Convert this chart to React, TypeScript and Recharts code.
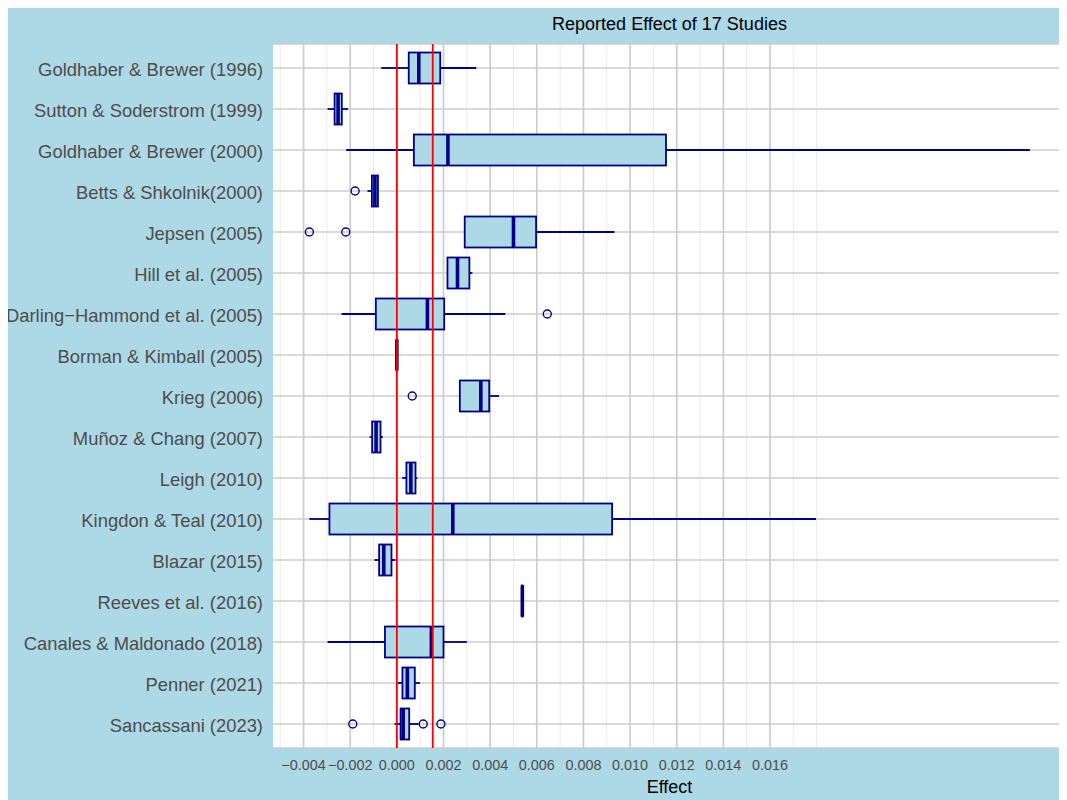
import React from 'react';
import { ComposedChart, Bar, XAxis, YAxis, CartesianGrid, ReferenceLine } from 'recharts';

const studies = [
  'Goldhaber & Brewer (1996)',
  'Sutton & Soderstrom (1999)',
  'Goldhaber & Brewer (2000)',
  'Betts & Shkolnik(2000)',
  'Jepsen (2005)',
  'Hill et al. (2005)',
  'Darling\u2212Hammond et al. (2005)',
  'Borman & Kimball (2005)',
  'Krieg (2006)',
  'Muñoz & Chang (2007)',
  'Leigh (2010)',
  'Kingdon & Teal (2010)',
  'Blazar (2015)',
  'Reeves et al. (2016)',
  'Canales & Maldonado (2018)',
  'Penner (2021)',
  'Sancassani (2023)',
];

const whiskerLow = [-0.00067, -0.00297, -0.00217, -0.00126, 0.00291, 0.00217, -0.00237, -0.00001, 0.0027, -0.00117, 0.00023, -0.00375, -0.00096, 0.00536, -0.00297, 0.00004, -0.0001];
const lowerQuartile = [0.00051, -0.00267, 0.00073, -0.00107, 0.00291, 0.00217, -0.0009, -0.00001, 0.0027, -0.00106, 0.00041, -0.00289, -0.00076, 0.00536, -0.00051, 0.00024, 0.00016];
const medians = [0.00094, -0.00252, 0.00219, -0.00094, 0.005, 0.0026, 0.00131, 0, 0.0036, -0.00089, 0.0006, 0.0024, -0.00056, 0.00538, 0.00148, 0.00045, 0.00027];
const upperQuartile = [0.00186, -0.00236, 0.01154, -0.00081, 0.00597, 0.00311, 0.00203, 0.00001, 0.00396, -0.0007, 0.0008, 0.00923, -0.00023, 0.0054, 0.002, 0.00077, 0.00053];
const whiskerHigh = [0.0034, -0.00209, 0.02714, -0.00081, 0.00933, 0.00324, 0.00465, 0.00001, 0.00438, -0.0006, 0.00088, 0.01797, -0.00006, 0.0054, 0.003, 0.00099, 0.00093];
const outliers: number[][] = [[], [], [], [-0.00179], [-0.00375, -0.00219], [], [0.00645], [], [0.00066], [], [], [], [], [], [], [], [-0.00189, 0.00113, 0.00189]];

const xTicks = [-0.004, -0.002, 0, 0.002, 0.004, 0.006, 0.008, 0.01, 0.012, 0.014, 0.016];
const minorBreaks = [-0.005, -0.003, -0.001, 0.001, 0.003, 0.005, 0.007, 0.009, 0.011, 0.013, 0.015, 0.017, 0.018];
const referenceEffects = [0, 0.00154];

const NAVY = '#00008b';
const BOX_FILL = '#add8e6';

const rows = studies.map((name, i) => ({
  name,
  lo: whiskerLow[i],
  q1: lowerQuartile[i],
  med: medians[i],
  q3: upperQuartile[i],
  hi: whiskerHigh[i],
  out: outliers[i],
}));

type Row = (typeof rows)[number];

const extent = (d: Row): [number, number] => [Math.min(d.lo, ...d.out), Math.max(d.hi, ...d.out)];

function BoxShape(props: any) {
  const { x, y, width, height, payload } = props;
  const d = payload as Row;
  const [min, max] = extent(d);
  const px = (v: number) => x + ((v - min) / (max - min)) * width;
  const cy = y + height / 2;
  return (
    <g>
      <line x1={px(d.lo)} x2={px(d.q1)} y1={cy} y2={cy} stroke={NAVY} strokeWidth={1.8} />
      <line x1={px(d.q3)} x2={px(d.hi)} y1={cy} y2={cy} stroke={NAVY} strokeWidth={1.8} />
      <rect
        x={px(d.q1)}
        y={y}
        width={Math.max(px(d.q3) - px(d.q1), 0)}
        height={height}
        fill={BOX_FILL}
        stroke={NAVY}
        strokeWidth={1.8}
      />
      <line x1={px(d.med)} x2={px(d.med)} y1={y} y2={y + height} stroke={NAVY} strokeWidth={3.6} />
      {d.out.map((o, k) => (
        <circle key={k} cx={px(o)} cy={cy} r={4} fill="none" stroke={NAVY} strokeWidth={1.4} />
      ))}
    </g>
  );
}

const fmt = (v: number) => (v < 0 ? '\u2212' : '') + Math.abs(v).toFixed(3);

export default function App() {
  return (
    <div
      style={{
        position: 'relative',
        width: 1059,
        height: 792,
        background: BOX_FILL,
        fontFamily: '"Liberation Sans", Arial, sans-serif',
      }}
    >
      <div
        style={{
          position: 'absolute',
          left: 265,
          width: 793,
          top: 7,
          lineHeight: '18px',
          fontSize: 18,
          textAlign: 'center',
          color: '#000',
        }}
      >
        Reported Effect of 17 Studies
      </div>
      <ComposedChart
        layout="vertical"
        width={1059}
        height={792}
        data={rows}
        margin={{ top: 36, right: 1, bottom: 0, left: 0 }}
        style={{ position: 'absolute', left: 0, top: 0 }}
      >
        <CartesianGrid
          horizontal={false}
          vertical
          verticalValues={minorBreaks}
          stroke="#ebebeb"
          strokeWidth={1}
          fill="#ffffff"
          fillOpacity={1}
        />
        <CartesianGrid
          horizontal
          vertical
          verticalValues={xTicks}
          stroke="#cccccc"
          strokeWidth={1.7}
        />
        <XAxis
          type="number"
          domain={[-0.00531, 0.02869]}
          allowDataOverflow
          ticks={xTicks}
          tickFormatter={fmt}
          axisLine={false}
          tickLine={false}
          tickMargin={6}
          height={52}
          interval={0}
          tick={{ fill: '#4d4d4d', fontSize: 14.4 }}
          label={{ value: 'Effect', position: 'insideBottom', offset: 7, fill: '#000', fontSize: 18 }}
        />
        <YAxis
          type="category"
          dataKey="name"
          width={265}
          axisLine={false}
          tickLine={false}
          tickMargin={4}
          interval={0}
          padding={{ top: 3.5, bottom: 3.5 }}
          tick={{ fill: '#4d4d4d', fontSize: 18.4, dy: 1 }}
        />
        <Bar dataKey={extent} barSize={31} shape={BoxShape} isAnimationActive={false} />
        {referenceEffects.map((v) => (
          <ReferenceLine key={v} x={v} stroke="#ff0000" strokeWidth={1.8} />
        ))}
      </ComposedChart>
    </div>
  );
}
